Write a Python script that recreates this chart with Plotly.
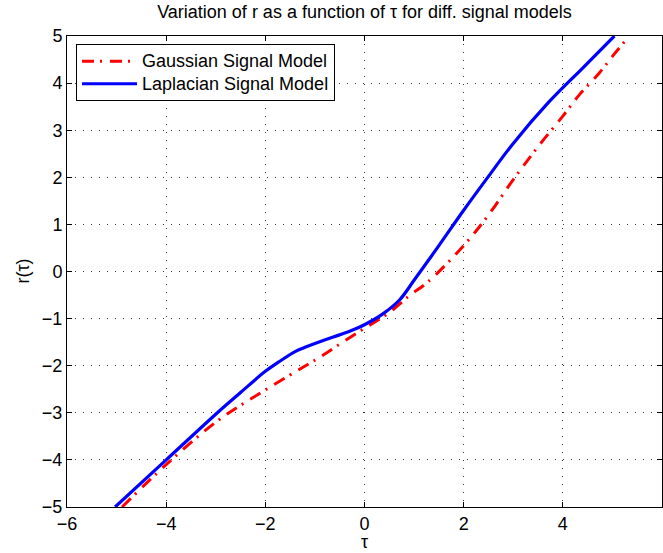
import plotly.graph_objects as go

# Laplacian signal model (blue, solid)
lap_tau = [-5.03, -4.0, -3.0, -2.5, -2.0, -1.7, -1.4, -1.2, -1.0, -0.63, -0.3, 0.0, 0.37, 0.71, 1.01, 1.5, 2.0, 2.5, 3.0, 3.72, 4.4, 5.04]
lap_r = [-5.0, -4.0, -3.03, -2.57, -2.12, -1.9, -1.7, -1.61, -1.53, -1.39, -1.27, -1.13, -0.9, -0.6, -0.17, 0.55, 1.3, 2.02, 2.72, 3.6, 4.32, 5.0]

# Gaussian signal model (red, dash-dot)
gau_tau = [-4.89, -4.0, -3.0, -2.24, -1.3, -0.9, -0.44, 0.04, 0.48, 0.91, 1.28, 2.0, 2.5, 3.0, 3.5, 4.0, 4.34, 4.74, 5.04, 5.32]
gau_r = [-5.0, -4.1, -3.2, -2.67, -2.07, -1.82, -1.5, -1.18, -0.89, -0.51, -0.22, 0.55, 1.2, 1.95, 2.65, 3.3, 3.76, 4.22, 4.62, 4.97]

x_ticks = [-6, -4, -2, 0, 2, 4, 6]
y_ticks = [-5, -4, -3, -2, -1, 0, 1, 2, 3, 4, 5]

FONT = "Liberation Sans, Arial, Helvetica, sans-serif"
FS = 18


def big(txt):
    return '<span style="font-size:18px">' + txt + '</span>'


fig = go.Figure()
fig.add_trace(go.Scatter(
    x=gau_tau, y=gau_r, mode="lines", name=big("Gaussian Signal Model"),
    line=dict(color="#ff0000", width=3, dash="12px,6px,2px,8px", shape="spline", smoothing=1.0),
))
fig.add_trace(go.Scatter(
    x=lap_tau, y=lap_r, mode="lines", name=big("Laplacian Signal Model"),
    line=dict(color="#0000ff", width=3.2, shape="spline", smoothing=1.0),
))

axis_common = dict(
    showline=True, linecolor="black", linewidth=1, mirror="ticks",
    ticks="inside", ticklen=5, tickcolor="black", tickwidth=1,
    showgrid=True, gridcolor="#333333", gridwidth=1, griddash="1px,7px",
    zeroline=False, tickfont=dict(family=FONT, size=FS, color="black"),
)

fig.update_layout(
    width=663, height=553,
    margin=dict(l=67, r=1, t=36, b=46),
    paper_bgcolor="white", plot_bgcolor="white",
    font=dict(family=FONT, size=FS, color="black"),
    title=dict(text="Variation of r as a function of τ for diff. signal models",
               x=0.5, xref="paper", xanchor="center",
               y=1 - 12 / 553, yref="container", yanchor="middle",
               font=dict(family=FONT, size=FS, color="black")),
    xaxis=dict(range=[-6, 6], tickvals=x_ticks, **axis_common),
    yaxis=dict(range=[-5, 5], tickvals=y_ticks, **axis_common),
    legend=dict(x=(76 - 67) / 595, y=(507 - 44) / 471, xanchor="left", yanchor="top",
                bgcolor="white", bordercolor="black", borderwidth=1,
                font=dict(family=FONT, size=15, color="black"),
                itemwidth=55, tracegroupgap=0),
    showlegend=True,
)

fig.add_annotation(text="τ", xref="paper", yref="paper", x=0.5, y=-(542 - 507) / 471,
                   xanchor="center", yanchor="middle", showarrow=False,
                   font=dict(family=FONT, size=FS, color="black"))
fig.add_annotation(text="r(τ)", xref="paper", yref="paper", x=-(67 - 22) / 595, y=0.5,
                   xanchor="center", yanchor="middle", showarrow=False, textangle=-90,
                   font=dict(family=FONT, size=FS, color="black"))

fig.write_html("out.html", config={"displayModeBar": False},
               post_script="document.body.style.margin='0px';")
